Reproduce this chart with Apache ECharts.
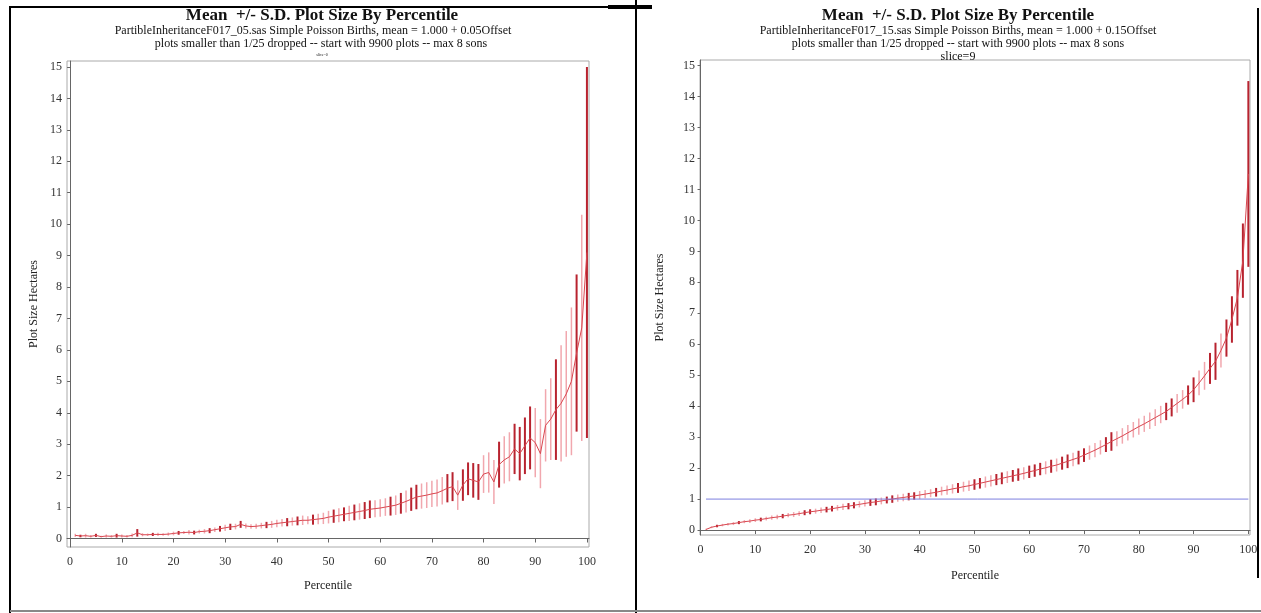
<!DOCTYPE html>
<html>
<head>
<meta charset="utf-8">
<script src="https://cdn.jsdelivr.net/npm/echarts@6/dist/echarts.min.js"></script>
<style>
html,body{margin:0;padding:0;background:#fff;}
#chart{width:1261px;height:613px;}
</style>
</head>
<body>
<div id="chart"></div>
<script>
// ---------- DATA ----------
var percentiles = [];
for (var i = 1; i <= 100; i++) percentiles.push(i);

var xTicks = [0,10,20,30,40,50,60,70,80,90,100];
var yTicks = [0,1,2,3,4,5,6,7,8,9,10,11,12,13,14,15];

// Left panel (0.05 offset)
var leftMean = [
 0.10,0.08,0.09,0.07,0.10,0.06,0.08,0.07,0.09,0.08,
 0.07,0.10,0.18,0.12,0.12,0.13,0.13,0.13,0.14,0.16,
 0.18,0.19,0.20,0.19,0.22,0.23,0.25,0.28,0.31,0.34,
 0.37,0.38,0.45,0.40,0.38,0.39,0.41,0.43,0.45,0.48,
 0.50,0.52,0.54,0.56,0.58,0.58,0.60,0.62,0.64,0.68,
 0.71,0.74,0.77,0.80,0.83,0.86,0.89,0.93,0.95,0.97,
 1.00,1.03,1.06,1.12,1.18,1.25,1.32,1.35,1.38,1.42,
 1.45,1.52,1.60,1.65,1.38,1.70,1.90,1.85,1.80,2.05,
 2.10,1.80,2.35,2.50,2.60,2.85,2.70,2.95,3.20,3.05,
 2.70,3.60,3.80,4.10,4.30,4.60,5.00,5.90,6.70,9.10
];
var leftSD = [
 0.05,0.04,0.06,0.04,0.05,0.03,0.05,0.04,0.06,0.05,
 0.04,0.06,0.12,0.05,0.04,0.05,0.05,0.04,0.05,0.06,
 0.06,0.05,0.07,0.06,0.06,0.07,0.08,0.07,0.09,0.10,
 0.10,0.09,0.11,0.08,0.07,0.08,0.09,0.10,0.11,0.12,
 0.12,0.13,0.13,0.14,0.15,0.13,0.16,0.17,0.18,0.20,
 0.21,0.22,0.22,0.24,0.25,0.26,0.27,0.28,0.27,0.28,
 0.28,0.30,0.31,0.33,0.35,0.37,0.39,0.40,0.41,0.42,
 0.43,0.44,0.45,0.46,0.47,0.50,0.52,0.55,0.57,0.60,
 0.64,0.70,0.73,0.75,0.78,0.80,0.85,0.90,1.00,1.10,
 1.10,1.15,1.30,1.60,1.85,2.00,2.35,2.50,3.60,5.90
];
var leftDarkPct = [2,5,9,13,16,21,24,27,29,31,33,38,42,44,47,51,53,55,57,58,62,64,66,67,73,74,76,77,78,79,83,86,87,88,89,94,98,100];

// Right panel (0.15 offset)
var rightMean = [
 0.02,0.09,0.13,0.16,0.19,0.21,0.24,0.27,0.29,0.32,
 0.34,0.37,0.40,0.42,0.45,0.48,0.50,0.53,0.56,0.59,
 0.61,0.64,0.66,0.69,0.72,0.75,0.77,0.80,0.83,0.86,
 0.89,0.91,0.94,0.97,1.00,1.03,1.05,1.08,1.10,1.13,
 1.16,1.19,1.22,1.26,1.29,1.33,1.36,1.40,1.43,1.47,
 1.51,1.55,1.59,1.63,1.67,1.71,1.75,1.79,1.83,1.88,
 1.92,1.97,2.01,2.06,2.10,2.16,2.22,2.28,2.34,2.42,
 2.50,2.58,2.67,2.76,2.86,2.95,3.04,3.14,3.24,3.34,
 3.43,3.53,3.63,3.73,3.83,3.96,4.09,4.22,4.36,4.53,
 4.75,4.98,5.22,5.45,5.80,6.20,6.80,7.50,8.70,11.50
];
var rightSD = [
 0.02,0.03,0.04,0.04,0.04,0.05,0.05,0.05,0.06,0.06,
 0.06,0.06,0.07,0.07,0.07,0.07,0.08,0.08,0.08,0.08,
 0.08,0.09,0.09,0.09,0.09,0.10,0.10,0.10,0.10,0.10,
 0.11,0.11,0.11,0.11,0.12,0.12,0.12,0.12,0.12,0.13,
 0.13,0.13,0.14,0.14,0.15,0.15,0.16,0.16,0.17,0.17,
 0.17,0.18,0.18,0.18,0.19,0.19,0.19,0.20,0.20,0.20,
 0.20,0.20,0.21,0.21,0.21,0.21,0.22,0.22,0.22,0.22,
 0.23,0.23,0.23,0.24,0.30,0.24,0.25,0.25,0.25,0.26,
 0.26,0.27,0.27,0.28,0.28,0.29,0.30,0.30,0.31,0.40,
 0.40,0.45,0.50,0.60,0.55,0.60,0.75,0.90,1.20,3.00
];
var rightDarkPct = [3,7,11,15,19,20,23,24,27,28,31,32,34,35,38,39,43,47,50,51,54,55,57,58,60,61,62,64,66,67,69,70,74,75,85,86,89,90,93,94,96,97,98,99,100];
var rightRefValue = 1;
var rightRefRange = [1, 100];

// ---------- BUILD ----------
var SERIF = '"Liberation Serif","DejaVu Serif",serif';
var DARK = '#b8232f';
var LIGHT = '#f1a7ae';
var MEANC = '#d9464f';

function bars(mean, sd, darkList, wantDark) {
  var out = [];
  for (var i = 0; i < percentiles.length; i++) {
    var p = percentiles[i];
    var isDark = darkList.indexOf(p) >= 0;
    if (isDark === wantDark) out.push([p, mean[i] - sd[i], mean[i] + sd[i]]);
  }
  return out;
}
function meanLine(mean) {
  return percentiles.map(function (p, i) { return [p, mean[i]]; });
}
function barSeries(gi, data, color, w) {
  return {
    type: 'custom', xAxisIndex: gi, yAxisIndex: gi, data: data, silent: true,
    encode: { x: 0, y: [1, 2] },
    renderItem: function (params, api) {
      var a = api.coord([api.value(0), api.value(1)]);
      var b = api.coord([api.value(0), api.value(2)]);
      return { type: 'line', shape: { x1: a[0], y1: a[1], x2: b[0], y2: b[1] },
        style: { stroke: color, lineWidth: w } };
    }
  };
}
function xAxis(gi, min, max, gap) {
  return {
    type: 'value', gridIndex: gi, min: min, max: max,
    name: 'Percentile', nameLocation: 'middle', nameGap: gap,
    nameTextStyle: { fontFamily: SERIF, fontSize: 12, color: '#222' },
    axisLine: { show: true, lineStyle: { color: '#666', width: 1 } },
    axisTick: { show: true, length: 4, customValues: xTicks, lineStyle: { color: '#666' } },
    axisLabel: { customValues: xTicks, fontFamily: SERIF, fontSize: 12, color: '#333', margin: 9 },
    splitLine: { show: false }
  };
}
function yAxis(gi, min, max, gap) {
  return {
    type: 'value', gridIndex: gi, min: min, max: max,
    name: 'Plot Size Hectares', nameLocation: 'middle', nameGap: gap, nameRotate: 90,
    nameTextStyle: { fontFamily: SERIF, fontSize: 12, color: '#222' },
    axisLine: { show: true, lineStyle: { color: '#666', width: 1 } },
    axisTick: { show: true, length: 3, customValues: yTicks, lineStyle: { color: '#666' } },
    axisLabel: { customValues: yTicks, fontFamily: SERIF, fontSize: 12, color: '#333', margin: 5 },
    splitLine: { show: false }
  };
}
function txt(x, y, s, size, bold) {
  return { type: 'text', x: x, y: y, silent: true,
    style: { text: s, fontFamily: SERIF, fontSize: size, fontWeight: bold ? 'bold' : 'normal',
      fill: '#111', align: 'center', textAlign: 'center', verticalAlign: 'middle', textVerticalAlign: 'middle' } };
}
function seg(x1, y1, x2, y2, c, w) {
  return { type: 'line', silent: true, shape: { x1: x1, y1: y1, x2: x2, y2: y2 }, style: { stroke: c, lineWidth: w } };
}

var chart = echarts.init(document.getElementById('chart'), null, { renderer: 'canvas' });
chart.setOption({
  backgroundColor: '#fff',
  animation: false,
  grid: [
    { left: 67, top: 61, width: 522, height: 486, show: true, borderColor: '#aaa', borderWidth: 1, backgroundColor: 'transparent' },
    { left: 700, top: 60, width: 550, height: 475, show: true, borderColor: '#aaa', borderWidth: 1, backgroundColor: 'transparent' }
  ],
  xAxis: [ xAxis(0, -0.6, 100.4, 33), xAxis(1, -0.1, 100.3, 35) ],
  yAxis: [ yAxis(0, -0.27, 15.19, 27), yAxis(1, -0.16, 15.18, 34) ],
  series: [
    barSeries(0, bars(leftMean, leftSD, leftDarkPct, false), LIGHT, 1.5),
    barSeries(0, bars(leftMean, leftSD, leftDarkPct, true), DARK, 2),
    { type: 'line', xAxisIndex: 0, yAxisIndex: 0, data: meanLine(leftMean), showSymbol: false, silent: true,
      lineStyle: { color: MEANC, width: 1 } },
    barSeries(1, bars(rightMean, rightSD, rightDarkPct, false), LIGHT, 1.5),
    barSeries(1, bars(rightMean, rightSD, rightDarkPct, true), DARK, 2),
    { type: 'line', xAxisIndex: 1, yAxisIndex: 1, data: meanLine(rightMean), showSymbol: false, silent: true,
      lineStyle: { color: MEANC, width: 1 } },
    { type: 'line', xAxisIndex: 1, yAxisIndex: 1, showSymbol: false, silent: true,
      data: [[rightRefRange[0], rightRefValue], [rightRefRange[1], rightRefValue]],
      lineStyle: { color: '#7d7fe0', width: 1 } }
  ],
  graphic: [
    txt(322, 16, 'Mean  +/- S.D. Plot Size By Percentile', 17, true),
    txt(313, 31, 'PartibleInheritanceF017_05.sas Simple Poisson Births, mean = 1.000 + 0.05Offset', 12, false),
    txt(321, 44, 'plots smaller than 1/25 dropped -- start with 9900 plots -- max 8 sons', 12, false),
    txt(322, 55, 'slice=0', 4, false),
    txt(958, 16, 'Mean  +/- S.D. Plot Size By Percentile', 17, true),
    txt(958, 31, 'PartibleInheritanceF017_15.sas Simple Poisson Births, mean = 1.000 + 0.15Offset', 12, false),
    txt(958, 44, 'plots smaller than 1/25 dropped -- start with 9900 plots -- max 8 sons', 12, false),
    txt(958, 57, 'slice=9', 12, false),
    seg(9, 7, 636, 7, '#000', 2),
    seg(608, 7, 652, 7, '#000', 4),
    seg(10, 6, 10, 613, '#000', 2),
    seg(636, 0, 636, 613, '#000', 2),
    seg(1258, 8, 1258, 578, '#000', 2),
    seg(10, 611, 1261, 611, '#888', 2)
  ]
});
</script>
</body>
</html>
